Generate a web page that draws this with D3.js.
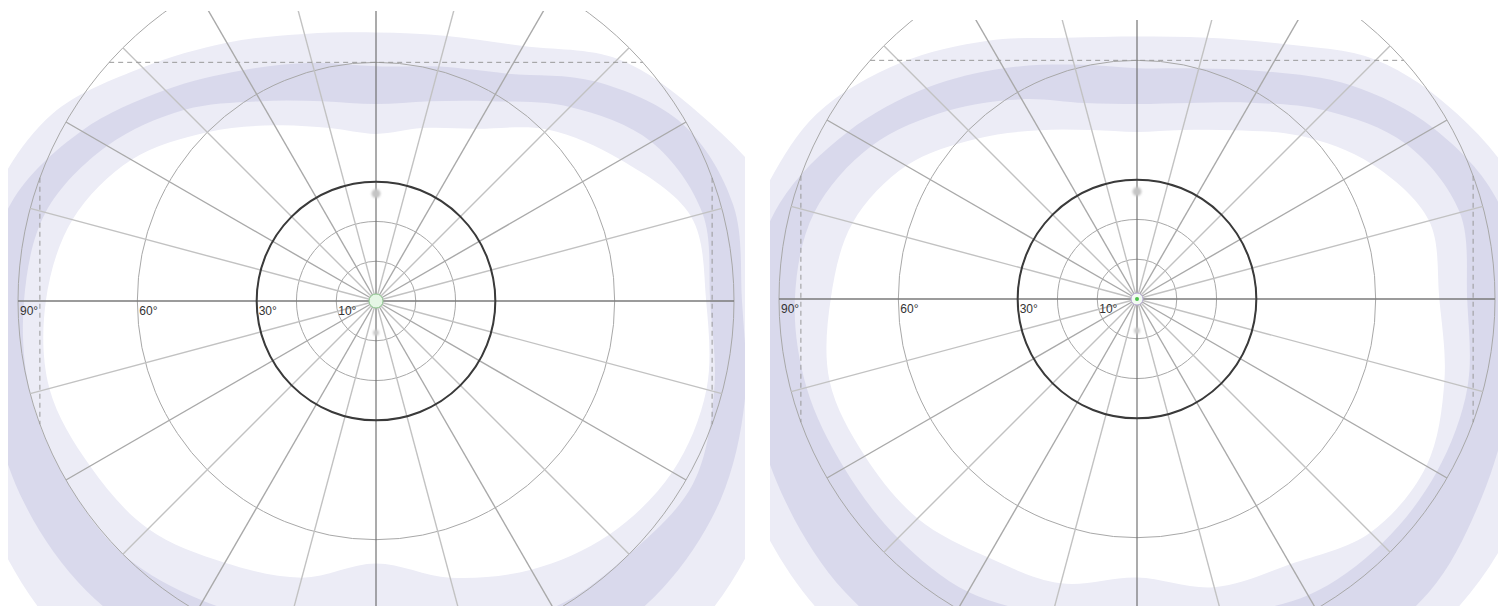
<!DOCTYPE html>
<html><head><meta charset="utf-8">
<script src="https://cdn.jsdelivr.net/npm/d3@7"></script>
<style>html,body{margin:0;padding:0;background:#fff}svg{display:block}</style>
</head><body>
<svg id="chart" width="1498" height="606"></svg>
<script>
// ---- data ----
const meridians = [0,15,30,45,60,75,90,105,120,135,150,165,180,195,210,225,240,255,270,285,300,315,330,345];
const ringDegrees = [10,20,30,60,90];
const tickValues = [90,60,30,10];
const tickLabels = ["90°","60°","30°","10°"];
const isopterDegree = 30;
const dashedTopDegree = 60;
const dashedSideDegree = 84.5;
const markerUpperDegree = 27;
const markerLowerDegree = 8;

// left panel boundaries, eccentricity in degrees per meridian
const leftLightOuter = [105,103,94,86,74,69,67.5,69.5,75,83,94,100,105,110,112,115,115,112,110,112,115,115,112,108];
const leftDarkOuter  = [92,93,89,78,66,61,59,62,67,75,85.5,95,98,100,102,103,102,99,97,99,102,102,100,96];
const leftDarkInner  = [84,85,80,69,58,52,49.5,52,58,68,78,86,88.5,90,90,90,87,84,82,84,89,90,92,88];
const leftInner      = [83,82,71,61,50,45,42,45,51,60,71,79,83,85,83,81,76,72,66,72,78,83,86,86];

// right panel boundaries
const rightLightOuter = [100,100,93,85,74,68,66,68,75,84,93,98,105,108,110,112,112,110,108,110,112,112,110,105];
const rightDarkOuter  = [95,94,86,76,66,60,58,61,67,75,84,93,98,100,102,104,104,101,99,101,104,104,100,97];
const rightDarkInner  = [83,84,78,67,57,51,49,51,58,67,77,84,86,86,85,85,85,82,79,82,86,87,87,86];
const rightInner      = [76,76,68,58,49,44,42,44,49,57,67,74,77,80,79,78,75,74,70,75,77,83,84,80];

const panels = [
  {id:"L", cx:376, cy:301, clip:[8,11,745,606], bands:[leftLightOuter,leftDarkOuter,leftDarkInner,leftInner], right:false},
  {id:"R", cx:1137, cy:299, clip:[770,20,1498,606], bands:[rightLightOuter,rightDarkOuter,rightDarkInner,rightInner], right:true}
];

// ---- drawing ----
const svg = d3.select("#chart");
const r = d3.scaleLinear().domain([0,90]).range([0,358]);
const toRad = d => (90 - d) * Math.PI/180; // meridian (ccw from right) -> lineRadial angle (cw from up)
const radialLine = d3.lineRadial().curve(d3.curveCatmullRomClosed.alpha(0.5));
const defs = svg.append("defs");
const blur = defs.append("filter").attr("id","soft").attr("x","-1").attr("y","-1").attr("width","3").attr("height","3");
blur.append("feGaussianBlur").attr("stdDeviation",1);

const LIGHT = "rgb(236,236,246)", DARK = "rgb(217,217,236)";

panels.forEach(p => {
  const [x0,y0,x1,y1] = p.clip;
  defs.append("clipPath").attr("id","clip"+p.id).append("rect")
    .attr("x",x0).attr("y",y0).attr("width",x1-x0).attr("height",y1-y0);
  defs.append("clipPath").attr("id","bclip"+p.id).append("rect")
    .attr("x",x0).attr("y",0).attr("width",x1-x0).attr("height",606);

  const shape = arr => radialLine(meridians.map((m,i)=>[toRad(m), r(arr[i])]));
  const bandG = svg.append("g").attr("clip-path","url(#bclip"+p.id+")")
    .append("g").attr("transform",`translate(${p.cx},${p.cy})`);
  const [A,B,C,D] = p.bands;
  bandG.append("path").attr("d", shape(A)+shape(D)).attr("fill",LIGHT).attr("fill-rule","evenodd");
  bandG.append("path").attr("d", shape(B)+shape(C)).attr("fill",DARK).attr("fill-rule","evenodd");

  const g = svg.append("g").attr("clip-path","url(#clip"+p.id+")")
    .append("g").attr("transform",`translate(${p.cx},${p.cy})`);

  // rings
  g.selectAll("circle.ring").data(ringDegrees).join("circle").attr("class","ring")
    .attr("r", d=>r(d)).attr("fill","none").attr("stroke","#a8a8a8").attr("stroke-width",1);

  // radial meridian lines
  g.selectAll("line.rad").data(meridians.filter(m=>m%90!==0)).join("line").attr("class","rad")
    .attr("x1",0).attr("y1",0)
    .attr("x2", m=>r(90)*Math.cos(m*Math.PI/180))
    .attr("y2", m=>-r(90)*Math.sin(m*Math.PI/180))
    .attr("stroke", m=> m%30===0 ? "#a9a9a9" : "#c2c2c2").attr("stroke-width",1.4);

  // axes
  g.append("line").attr("x1",-r(90)).attr("x2",r(90)).attr("y1",0).attr("y2",0)
    .attr("stroke","#7a7a7a").attr("stroke-width",1.3);
  g.append("line").attr("x1",0).attr("x2",0).attr("y1",-400).attr("y2",400)
    .attr("stroke","#666").attr("stroke-width",1.1);

  // dashed limit lines (chords of the 90° circle)
  const yTop = -r(dashedTopDegree), halfTop = Math.sqrt(r(90)**2 - yTop**2);
  g.append("line").attr("x1",-halfTop).attr("x2",halfTop).attr("y1",yTop).attr("y2",yTop)
    .attr("stroke","#999").attr("stroke-dasharray","5,4").attr("stroke-width",1);
  [-1,1].forEach(s => {
    const xs = s*r(dashedSideDegree), half = Math.sqrt(r(90)**2 - xs**2);
    g.append("line").attr("x1",xs).attr("x2",xs).attr("y1",-half).attr("y2",half)
      .attr("stroke","#999").attr("stroke-dasharray","5,4").attr("stroke-width",1);
  });

  // thick isopter
  g.append("circle").attr("r", r(isopterDegree)).attr("fill","none").attr("stroke","#3a3a3a").attr("stroke-width",2);

  // grey markers
  g.append("circle").attr("cx",0).attr("cy",-r(markerUpperDegree)).attr("r",4.5).attr("fill","#c4c4c4").attr("filter","url(#soft)");
  g.append("circle").attr("cx",0).attr("cy",r(markerLowerDegree)).attr("r",3).attr("fill","#c8c8c8").attr("filter","url(#soft)");

  // labels
  g.selectAll("text.tick").data(tickValues).join("text").attr("class","tick")
    .attr("x", v=>-r(v)+2).attr("y",14)
    .attr("font-family","Liberation Sans, Arial, sans-serif").attr("font-size",12).attr("fill","#333")
    .text((v,i)=>tickLabels[i]);

  // fixation marker
  if (!p.right) {
    g.append("circle").attr("r",7).attr("fill","#e6f7e6").attr("stroke","#8fc98f").attr("stroke-width",1);
  } else {
    g.append("circle").attr("r",6).attr("fill","#f2fbf2").attr("stroke","#b9a9d6").attr("stroke-width",1);
    g.append("circle").attr("r",2).attr("fill","#4cc24c");
  }
});
</script>
</body></html>
